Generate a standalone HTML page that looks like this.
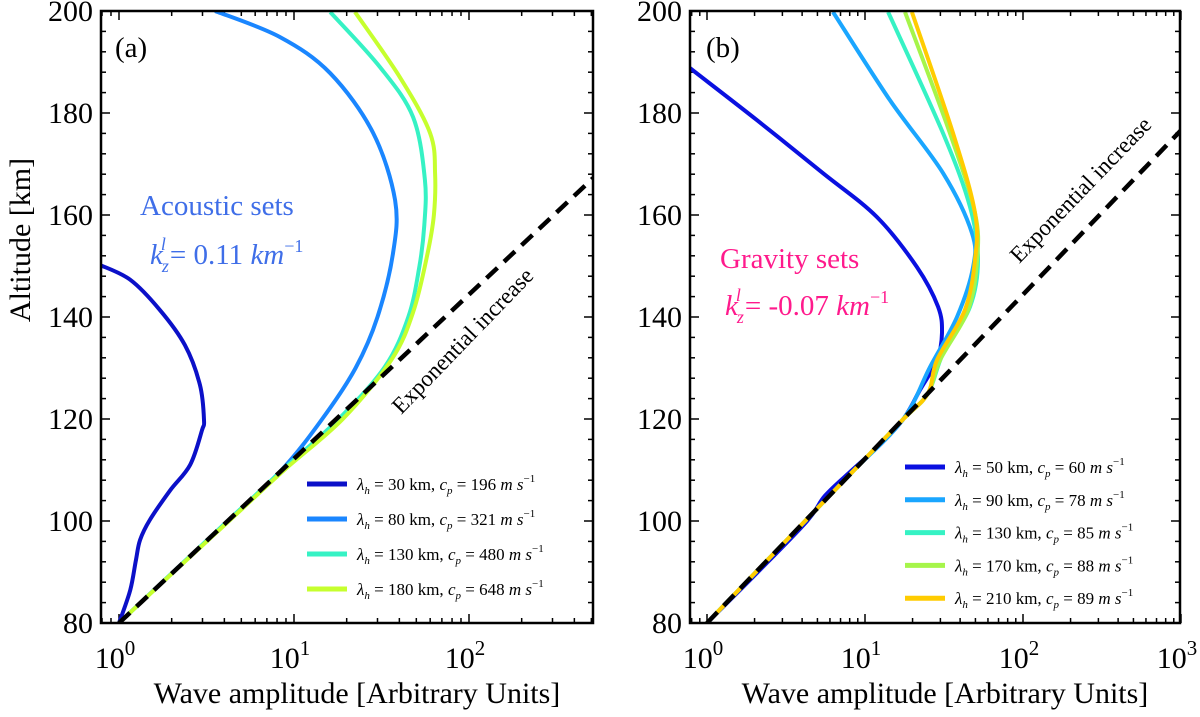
<!DOCTYPE html>
<html><head><meta charset="utf-8">
<style>
html,body{margin:0;padding:0;background:#fff;}
svg{display:block;}
text{font-family:'Liberation Serif','DejaVu Serif','Noto Serif CJK SC',serif;}
</style></head>
<body>
<svg id="chart" width="1200" height="717" viewBox="0 0 1200 717"></svg>
<script>
// ---------- data ----------
const yTicks = [80, 100, 120, 140, 160, 180, 200];
const xTickExp = [0, 1, 2, 3];
// panel (a) acoustic sets: altitude [km] and amplitude
const aAlt30 = [80, 86.5, 92.4, 96.3, 100.2, 106, 111, 117.8, 119.8, 126.7, 134.5, 141.4, 147.3, 150.2];
const aAmp30 = [1, 1.16, 1.25, 1.32, 1.5, 1.96, 2.55, 2.98, 3.06, 2.9, 2.38, 1.71, 1.16, 0.78];
const aAlt80 = [80, 90, 100, 110, 120, 130, 140, 152.5, 162.9, 176.1, 187.8, 194.9, 200];
const aAmp80 = [1, 2.04, 4.18, 8.5, 14.5, 22.5, 30, 36.8, 37.8, 28.3, 16.1, 8.3, 3.54];
const aAlt130 = [80, 90, 100, 110, 120, 130.2, 140, 149.8, 158, 166.9, 179.2, 189, 199.8];
const aAmp130 = [1, 2.04, 4.18, 8.6, 18, 33, 45, 52, 55.5, 56, 47.9, 31, 16.1];
const aAlt180 = [80, 90, 100, 110, 120, 131.6, 141, 152.5, 160, 168, 176, 187, 199.8];
const aAmp180 = [1, 2.05, 4.25, 8.8, 19, 36, 48, 58, 63, 64, 60, 40.3, 22.3];
// panel (b) gravity sets
const bAlt50 = [80, 90, 100, 105, 110, 115, 120, 125.7, 131.6, 136.9, 142, 149.8, 159.6, 168.2, 178.6, 188.8];
const bAmp50 = [1, 2.1, 4.3, 5.6, 8.3, 12.5, 17.5, 22.3, 28.6, 30.7, 29, 21.3, 11.9, 5.42, 2.07, 0.78];
const bAlt90 = [80, 90, 100, 110, 120, 130.2, 140, 149.8, 156.5, 168.2, 182.5, 199.8];
const bAmp90 = [1, 2.04, 4.18, 8.55, 17.5, 25.8, 38.2, 48.3, 47.5, 31.2, 14.4, 6.27];
const bAlt130 = [80, 90, 100, 110, 120, 125, 132.9, 142, 151.2, 161.6, 176, 199.8];
const bAmp130 = [1, 2.04, 4.18, 8.55, 17.5, 25, 31.2, 46.2, 51.9, 46.2, 31.2, 14];
const bAlt170 = [80, 90, 100, 110, 120, 125, 131.6, 141.4, 151.2, 160.4, 176, 199.8];
const bAmp170 = [1, 2.04, 4.18, 8.55, 17.5, 25, 29.9, 44.9, 51.2, 49.7, 34.5, 17.9];
const bAlt210 = [80, 90, 100, 110, 120, 125, 131.6, 141.4, 151.2, 160.4, 176, 199.8];
const bAmp210 = [1, 2.04, 4.18, 8.55, 17.5, 25, 28.6, 42.9, 49.7, 49.7, 36.1, 19.8];
const expSlope = 32.2; // km per decade
const legendA = ["30 km", "196", "80 km", "321", "130 km", "480", "180 km", "648"];
const legendB = ["50 km", "60", "90 km", "78", "130 km", "85", "170 km", "88", "210 km", "89"];

const NS = "http://www.w3.org/2000/svg";
const svg = document.getElementById("chart");
function mk(tag, attrs, parent) {
  const e = document.createElementNS(NS, tag);
  for (const k in attrs) e.setAttribute(k, attrs[k]);
  (parent || svg).appendChild(e);
  return e;
}
const TOP = 11, BOT = 623;
function yScale(z) { return BOT - (z - 80) / 120 * (BOT - TOP); }

function panel(name, L, R, x0, dec, lmin, lmax) {
  const g = mk("g", {});
  
  
  const xs = a => x0 + Math.log10(a) * dec;
  const clip = mk("clipPath", { id: "clip-" + name }, g);
  mk("rect", { x: L, y: TOP, width: R - L, height: BOT - TOP }, clip);
  const tk = mk("g", { stroke: "#000", "stroke-width": 1.5 }, g);
  
  
  for (let z = 80; z <= 200; z += 4) {
    const y = yScale(z), len = (z % 20 === 0) ? 9 : 5;
    mk("line", { x1: L, x2: L + len, y1: y, y2: y }, tk);
    mk("line", { x1: R, x2: R - len, y1: y, y2: y }, tk);
  }
  for (let e = Math.floor(lmin); e <= Math.ceil(lmax); e++) {
    for (let m = 1; m <= 9; m++) {
      const l = e + Math.log10(m);
      if (l < lmin - 1e-6 || l > lmax + 1e-6) continue;
      const x = x0 + l * dec, len = m === 1 ? 9 : 5;
      mk("line", { x1: x, x2: x, y1: BOT, y2: BOT - len }, tk);
      mk("line", { x1: x, x2: x, y1: TOP, y2: TOP + len }, tk);
    }
  }
  yTicks.forEach(z => {
    const t = mk("text", { x: L - 8, y: yScale(z) + 10, "text-anchor": "end", "font-size": 30 }, g);
    
    
    t.textContent = z;
  });
  xTickExp.forEach(e => {
    if (e > lmax + 1e-6) return;
    const x = x0 + e * dec;
    const t = mk("text", { x: x - 4, y: 668, "text-anchor": "middle", "font-size": 30 }, g);
    
    
    t.textContent = "10";
    const s = mk("tspan", { dy: -13, "font-size": 21 }, t);
    s.textContent = e;
  });
  const xl = mk("text", { x: (L + R) / 2 + 10, y: 703, "text-anchor": "middle", "font-size": 30 }, g);
  
  
  xl.textContent = "Wave amplitude [Arbitrary Units]";
  return { g, xs, clipId: "clip-" + name };
}
function smoothPath(pts) {
  let d = "M" + pts[0][0].toFixed(1) + "," + pts[0][1].toFixed(1);
  for (let i = 0; i < pts.length - 1; i++) {
    const p0 = pts[Math.max(0, i - 1)], p1 = pts[i], p2 = pts[i + 1], p3 = pts[Math.min(pts.length - 1, i + 2)];
    const c1x = p1[0] + (p2[0] - p0[0]) / 6, c1y = p1[1] + (p2[1] - p0[1]) / 6;
    const c2x = p2[0] - (p3[0] - p1[0]) / 6, c2y = p2[1] - (p3[1] - p1[1]) / 6;
    d += " C" + c1x.toFixed(1) + "," + c1y.toFixed(1) + " " + c2x.toFixed(1) + "," + c2y.toFixed(1) + " " + p2[0].toFixed(1) + "," + p2[1].toFixed(1);
  }
  return d;
}
function series(P, alts, amps, color, name) {
  const pts = alts.map((z, i) => [P.xs(amps[i]), yScale(z)]);
  const p = mk("path", { d: smoothPath(pts), fill: "none", stroke: color, "stroke-width": 4, "stroke-linejoin": "round", "clip-path": "url(#" + P.clipId + ")" }, P.g);
  
  
}
function expLine(P, lmax) {
  const p = mk("line", { x1: P.xs(1), y1: yScale(80), x2: P.xs(Math.pow(10, lmax)), y2: yScale(80 + expSlope * lmax),
    stroke: "#000", "stroke-width": 4.5, "stroke-dasharray": "15 9", "clip-path": "url(#" + P.clipId + ")" }, P.g);
  
  
}
function legend(P, items, colors, x, y0, step) {
  for (let i = 0; i < colors.length; i++) {
    const y = y0 + i * step;
    const lg = mk("g", {}, P.g);
    
    
    mk("line", { x1: x, x2: x + 40, y1: y, y2: y, stroke: colors[i], "stroke-width": 5 }, lg);
    const t = mk("text", { x: x + 50, y: y + 6, "font-size": 17 }, lg);
    t.innerHTML = '<tspan font-style="italic">λ</tspan><tspan font-size="11" dy="4" font-style="italic">h</tspan><tspan dy="-4"> = ' + items[2 * i] + ', </tspan><tspan font-style="italic">c</tspan><tspan font-size="11" dy="4" font-style="italic">p</tspan><tspan dy="-4"> = ' + items[2 * i + 1] + ' </tspan><tspan font-style="italic">m s</tspan><tspan font-size="11" dy="-8">−1</tspan>';
  }
}

const PA = panel("panel-a", 101, 593, 119, 175, -0.103, 2.709);
series(PA, aAlt30, aAmp30, "#0b10c8", "series-30km");
series(PA, aAlt80, aAmp80, "#1a86ff", "series-80km");
series(PA, aAlt130, aAmp130, "#36f2c4", "series-130km");
series(PA, aAlt180, aAmp180, "#c6ff2e", "series-180km");
expLine(PA, 2.709);
legend(PA, legendA, ["#0b10c8", "#1a86ff", "#36f2c4", "#c6ff2e"], 307, 484, 35);

const PB = panel("panel-b", 690, 1180, 707, 158, -0.108, 3);
series(PB, bAlt50, bAmp50, "#0a10e0", "series-50km");
series(PB, bAlt90, bAmp90, "#1aa6ff", "series-90km");
series(PB, bAlt130, bAmp130, "#36f2c4", "series-130km");
series(PB, bAlt170, bAmp170, "#a6f54a", "series-170km");
series(PB, bAlt210, bAmp210, "#ffcc00", "series-210km");
expLine(PB, 3);
legend(PB, legendB, ["#0a10e0", "#1aa6ff", "#36f2c4", "#a6f54a", "#ffcc00"], 905, 467, 32.8);

[[101, 593], [690, 1180]].forEach(([L, R]) => {
  const f = mk("rect", { x: L, y: TOP, width: R - L, height: BOT - TOP, fill: "none", stroke: "#000", "stroke-width": 2.5 });
  
  
});
</script>
<div style="position:absolute;left:0;top:0;width:1200px;height:717px;pointer-events:none;">
<svg width="1200" height="717" style="position:absolute;left:0;top:0;">
  <text transform="translate(30,240) rotate(-90)" text-anchor="middle" font-size="30">Altitude [km]</text>
  <text x="115" y="57" font-size="29">(a)</text>
  <text x="706" y="57" font-size="29">(b)</text>
  <text x="140" y="215" font-size="29" fill="#3f6ee8">Acoustic sets</text>
  <text x="150" y="264" font-size="29" fill="#3f6ee8"><tspan font-style="italic">k</tspan><tspan font-size="18" dy="8" dx="-1" font-style="italic">z</tspan><tspan font-size="18" dy="-22" dx="-8" font-style="italic">l</tspan><tspan dy="14" dx="4">= 0.11 </tspan><tspan font-style="italic">km</tspan><tspan font-size="18" dy="-12">−1</tspan></text>
  <text x="720" y="268" font-size="29" fill="#ff1a8c">Gravity sets</text>
  <text x="725" y="315" font-size="29" fill="#ff1a8c"><tspan font-style="italic">k</tspan><tspan font-size="18" dy="8" dx="-1" font-style="italic">z</tspan><tspan font-size="18" dy="-22" dx="-8" font-style="italic">l</tspan><tspan dy="14" dx="4">= -0.07 </tspan><tspan font-style="italic">km</tspan><tspan font-size="18" dy="-12">−1</tspan></text>
  <text transform="translate(468,346) rotate(-46)" text-anchor="middle" font-size="23">Exponential increase</text>
  <text transform="translate(1086,195) rotate(-46)" text-anchor="middle" font-size="23">Exponential increase</text>
</svg>
</div>
</body></html>
